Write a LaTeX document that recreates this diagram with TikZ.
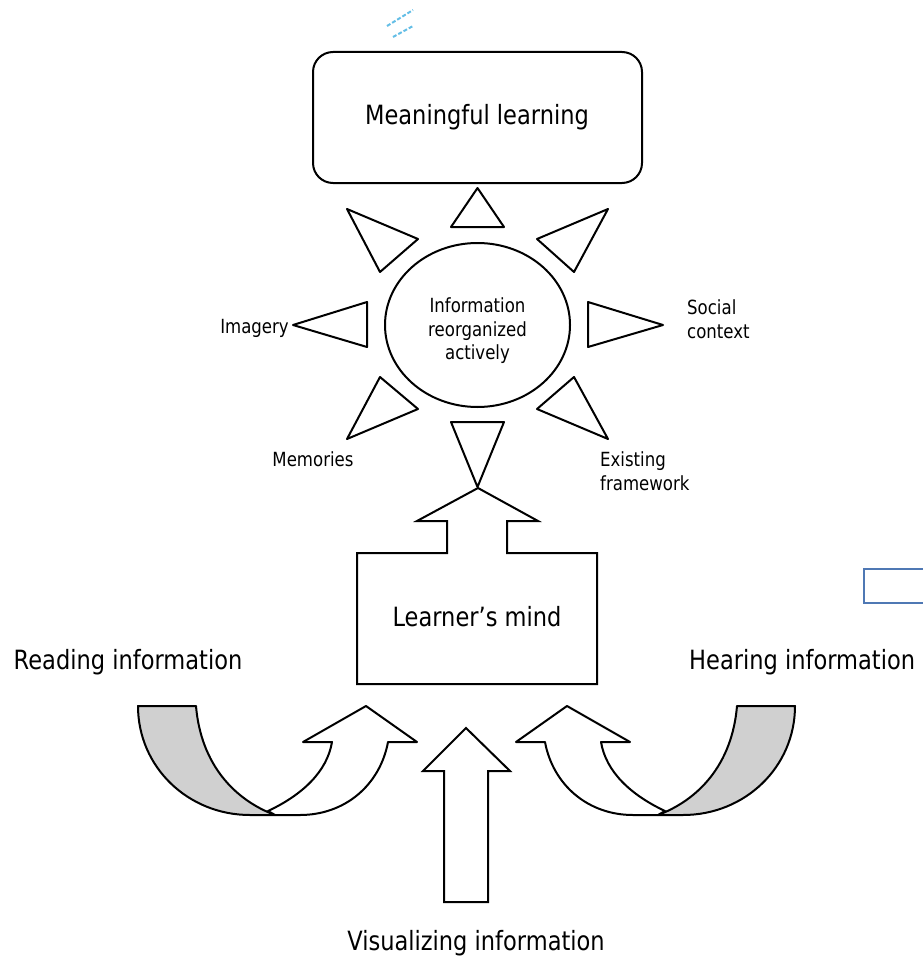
\documentclass[tikz,border=0pt]{standalone}
\usepackage{fontspec}
\setmainfont[FakeStretch=0.85]{DejaVu Sans}
\definecolor{bandgray}{RGB}{208,208,208}
\definecolor{boxblue}{RGB}{79,120,180}
\definecolor{dashblue}{RGB}{100,190,230}
\newcommand\myUarrow{%
  \fill[bandgray] (138,706) -- (196,706) .. controls (201,765) and (235,800) .. (275,815)
        -- (250,815) .. controls (188,815) and (138,767) .. (138,706) -- cycle;
  \draw[outl] (138,706) -- (196,706) .. controls (201,765) and (235,800) .. (275,815)
        -- (250,815) .. controls (188,815) and (138,767) .. (138,706) -- cycle;
  \draw[shapebox] (268,811) .. controls (302,795) and (327,772) .. (332,742)
        -- (303,742) -- (366,706) -- (417,742) -- (388,742)
        .. controls (380,785) and (345,815) .. (300,815) -- (275,815) -- cycle;
}
\begin{document}
\begin{tikzpicture}[x=1pt,y=-1pt,
  outl/.style={draw=black, line width=2pt, line join=round},
  shapebox/.style={outl, fill=white},
  big/.style={font=\fontsize{26.5}{31}\selectfont, inner sep=0pt},
  small/.style={font=\fontsize{19.5}{23.5}\selectfont, inner sep=0pt}]
\useasboundingbox (0,0) rectangle (923,958);

% faint dashes at top
\draw[dashblue, line width=2pt, dash pattern=on 4pt off 2pt] (387,26) -- (413,10);
\draw[dashblue, line width=2pt, dash pattern=on 4pt off 2pt] (393,37) -- (413,26);

% Meaningful learning box
\draw[outl, rounded corners=20pt] (313,52) rectangle (642,183);
\node[big] (ml) at (477,117) {Meaningful learning};

% central ellipse
\draw[outl] (477.5,325) ellipse [x radius=92.5pt, y radius=82pt];
\node[small, align=center] (info) at (477.5,331) {Information\\reorganized\\actively};

% triangles
\draw[shapebox] (477.5,188) -- (451,227) -- (504,227) -- cycle;
\draw[shapebox] (347,209) -- (418,239) -- (380,272) -- cycle;
\draw[shapebox] (608,209) -- (537,239) -- (574,272) -- cycle;
\draw[shapebox] (293,325) -- (367,302) -- (367,347) -- cycle;
\draw[shapebox] (663,325) -- (588,302) -- (588,347) -- cycle;
\draw[shapebox] (347,439) -- (418,409) -- (380,377) -- cycle;
\draw[shapebox] (608,439) -- (537,409) -- (574,377) -- cycle;
\draw[shapebox] (477.5,487) -- (451,422) -- (504,422) -- cycle;

% labels around
\node[small, anchor=east] (img) at (289,328) {Imagery};
\node[small, anchor=west, align=left] (soc) at (687,319) {Social\\context};
\node[small] (mem) at (313,459) {Memories};
\node[small, anchor=west, align=left] (exf) at (600,471) {Existing\\framework};

% Learner's mind with up arrow
\draw[shapebox, line join=miter] (357,553) -- (447,553) -- (447,521) -- (417,521) -- (478,488)
   -- (538,521) -- (507,521) -- (507,553) -- (597,553) -- (597,684) -- (357,684) -- cycle;
\node[big] (lm) at (477,617) {Learner’s mind};

% side labels
\node[big] (ri) at (128,662) {Reading information};
\node[big, anchor=west] (hi) at (689,662) {Hearing information};

% curved arrows
\begin{scope}
\myUarrow
\end{scope}
\begin{scope}[shift={(933,0)}, xscale=-1]
\myUarrow
\end{scope}

% vertical arrow
\draw[shapebox, line join=miter] (444,902) -- (444,771) -- (423,771) -- (466,728) -- (510,771)
   -- (488,771) -- (488,902) -- cycle;
\node[big] (vi) at (476,943) {Visualizing information};

% partial blue box at right edge
\draw[boxblue, line width=2.6pt] (864,569) rectangle (945,603);
\end{tikzpicture}
\end{document}
